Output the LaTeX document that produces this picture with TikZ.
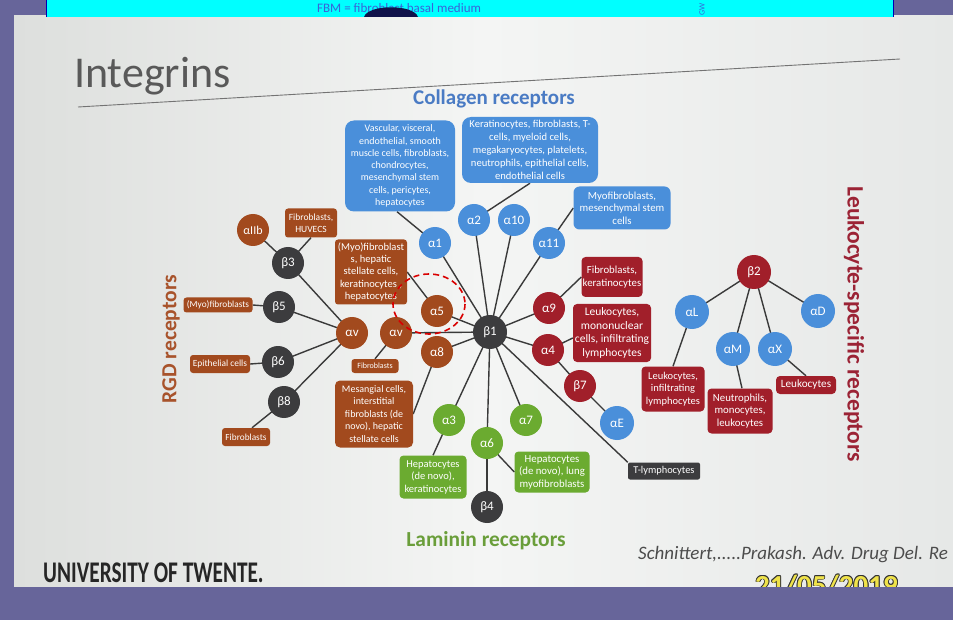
\documentclass[tikz,border=0pt]{standalone}
\usepackage{fontspec}
\setmainfont{Carlito}
\usetikzlibrary{calc}
\pgfdeclarelayer{bgslide}
\pgfdeclarelayer{edges}
\pgfsetlayers{bgslide,edges,main}
\definecolor{purp}{HTML}{67659A}
\definecolor{slideL}{HTML}{DDDFDD}
\definecolor{slideM}{HTML}{F4F5F4}
\definecolor{slideR}{HTML}{E6E8E7}
\definecolor{bandcyan}{HTML}{00FFFF}
\definecolor{cblue}{HTML}{4A8FDA}
\definecolor{cred}{HTML}{A11F2A}
\definecolor{cbrown}{HTML}{A24A1E}
\definecolor{cdark}{HTML}{3C3C3E}
\definecolor{cgreen}{HTML}{6BAB30}
\definecolor{edgec}{HTML}{3A3A3A}
\definecolor{colltxt}{HTML}{4A7BC4}
\definecolor{lamtxt}{HTML}{6A9E3A}
\definecolor{leuktxt}{HTML}{9B2335}
\definecolor{rgdtxt}{HTML}{A8532B}
\definecolor{fbmblue}{HTML}{3A63D8}
\definecolor{dateyel}{HTML}{EFE24A}
\definecolor{blobc}{HTML}{10124A}
\tikzset{
  circ/.style={circle, minimum size=32pt, inner sep=0pt, text=white, font=\fontsize{13}{13}\selectfont},
  bc/.style={circ, fill=cblue},
  rc/.style={circ, fill=cred},
  brc/.style={circ, fill=cbrown},
  dc/.style={circ, fill=cdark},
  gc/.style={circ, fill=cgreen},
  cellbox/.style={rounded corners=4pt, inner sep=0pt, text=white, align=center, font=\fontsize{10.5}{12.5}\selectfont},
  bb/.style={cellbox, fill=cblue, rounded corners=9pt},
  rb/.style={cellbox, fill=cred},
  brb/.style={cellbox, fill=cbrown, rounded corners=3pt},
  gb/.style={cellbox, fill=cgreen},
  db/.style={cellbox, fill=cdark, rounded corners=2pt},
  link/.style={draw=edgec, line width=1.4pt},
}
\begin{document}
\begin{tikzpicture}[x=1pt,y=-1pt]
\useasboundingbox (0,0) rectangle (953,620);
% ---------- background ----------
\begin{pgfonlayer}{bgslide}
\fill[purp] (0,0) rectangle (953,620);
\shade[left color=slideL, right color=slideR, middle color=slideM] (14,16) rectangle (953,587);
\fill[bandcyan] (46,0) rectangle (893,17);
\draw[blue!70!black, line width=0.8pt] (46,0) -- (46,17) (893,0) -- (893,17);
\node[text=fbmblue, font=\fontsize{13}{13}\selectfont, anchor=west, inner sep=0pt] (fbm) at (317,8) {FBM = fibroblast basal medium};
\fill[blobc] (364,17) .. controls (368,4) and (414,4) .. (418,17) -- cycle;
\node[text=fbmblue, font=\fontsize{8}{8}\selectfont, rotate=90, inner sep=0pt] (gw) at (702,9) {GW};
% title
\node[anchor=base west, text=black!65, font=\fontsize{44}{44}\selectfont, inner sep=0pt] (title) at (74,88) {Integrins};
\draw[black!55, line width=0.9pt] (78,107) -- (900,59);
\end{pgfonlayer}
% ---------- headings ----------
\node[text=colltxt, font=\bfseries\fontsize{21}{21}\selectfont] (coll) at (494,99) {Collagen receptors};
\node[text=lamtxt, font=\bfseries\fontsize{21.4}{21.4}\selectfont] (lam) at (486,541) {Laminin receptors};
\node[text=rgdtxt, rotate=90, font=\bfseries\fontsize{21.5}{21.5}\selectfont] (rgd) at (171,339) {RGD receptors};
\node[text=leuktxt, rotate=-90, font=\bfseries\fontsize{23.5}{23.5}\selectfont] (leuk) at (854,324) {Leukocyte-specific receptors};
% ---------- integrin circles ----------
\node[dc, minimum size=34pt] (b1) at (490,332) {β1};
\node[bc] (a1) at (435,243) {α1};
\node[bc] (a2) at (474,220) {α2};
\node[bc] (a10) at (514,220) {α10};
\node[bc] (a11) at (549,243) {α11};
\node[rc] (a9) at (549,308) {α9};
\node[rc] (a4) at (548,350) {α4};
\node[rc] (b7) at (580,386) {β7};
\node[bc, minimum size=34pt] (aE) at (617,423) {αE};
\node[brc] (a5) at (437,311) {α5};
\node[brc] (av2) at (396,333) {αv};
\node[brc] (av1) at (352,333) {αv};
\node[brc] (a8) at (437,352) {α8};
\node[gc] (a3) at (449,420) {α3};
\node[gc] (a6) at (487,443) {α6};
\node[gc] (a7) at (526,420) {α7};
\node[dc] (b4) at (487,507) {β4};
\node[dc] (b3) at (288,263) {β3};
\node[dc] (b5) at (279,307) {β5};
\node[dc] (b6) at (278,362) {β6};
\node[dc] (b8) at (284,402) {β8};
\node[brc, font=\fontsize{12}{12}\selectfont] (a2b) at (253,230) {αIIb};
\node[rc, minimum size=34pt] (b2) at (754,272) {β2};
\node[bc, minimum size=34pt] (aL) at (692,312) {αL};
\node[bc, minimum size=34pt] (aM) at (733,349) {αM};
\node[bc, minimum size=34pt] (aX) at (775,349) {αX};
\node[bc, minimum size=34pt] (aD) at (818,311) {αD};
% ---------- cell boxes ----------
\node[bb, minimum width=110pt, minimum height=91pt, font=\fontsize{10}{12.3}\selectfont] (cb1) at (400,166)
  {Vascular, visceral,\\endothelial, smooth\\muscle cells, fibroblasts,\\chondrocytes,\\mesenchymal stem\\cells, pericytes,\\hepatocytes};
\node[bb, minimum width=136pt, minimum height=66pt, font=\fontsize{10.6}{13}\selectfont] (cb2) at (530,150)
  {Keratinocytes, fibroblasts, T-\\cells, myeloid cells,\\megakaryocytes, platelets,\\neutrophils, epithelial cells,\\endothelial cells};
\node[bb, minimum width=97pt, minimum height=43pt, rounded corners=6pt, font=\fontsize{10.8}{12.5}\selectfont] (cb3) at (622,208)
  {Myofibroblasts,\\mesenchymal stem\\cells};
\node[brb, minimum width=52pt, minimum height=29pt, font=\fontsize{9.5}{11.5}\selectfont] (fbh) at (311,223) {Fibroblasts,\\HUVECS};
\node[brb, minimum width=72pt, minimum height=65pt, font=\fontsize{10.5}{12.4}\selectfont] (myo1) at (371,272)
  {(Myo)fibroblast\\s, hepatic\\stellate cells,\\keratinocytes ,\\hepatocytes};
\node[brb, minimum width=69pt, minimum height=15pt, font=\fontsize{9.3}{9.3}\selectfont] (myo2) at (218,305) {(Myo)fibroblasts};
\node[brb, minimum width=60pt, minimum height=18pt, font=\fontsize{9.4}{9.4}\selectfont] (epi) at (220,364) {Epithelial cells};
\node[brb, minimum width=48pt, minimum height=18pt, font=\fontsize{9.3}{9.3}\selectfont] (fb2) at (246,437) {Fibroblasts};
\node[brb, minimum width=47pt, minimum height=14pt, font=\fontsize{8}{8}\selectfont] (fb3) at (375,366) {Fibroblasts};
\node[brb, minimum width=78pt, minimum height=67pt, rounded corners=5pt, font=\fontsize{10}{12.5}\selectfont] (mes) at (374,414)
  {Mesangial cells,\\interstitial\\fibroblasts (de\\novo), hepatic\\stellate cells};
\node[gb, minimum width=67pt, minimum height=43pt] (g1) at (433,477) {Hepatocytes\\(de novo),\\keratinocytes};
\node[gb, minimum width=75pt, minimum height=41pt, font=\fontsize{10.8}{12.5}\selectfont] (g2) at (552,472) {Hepatocytes\\(de novo), lung\\myofibroblasts};
\node[rb, minimum width=61pt, minimum height=40pt, font=\fontsize{10.8}{12.5}\selectfont] (fk) at (612,277) {Fibroblasts,\\keratinocytes};
\node[rb, minimum width=78pt, minimum height=58pt, font=\fontsize{11.5}{13.5}\selectfont] (lm) at (612,333)
  {Leukocytes,\\mononuclear\\cells, infiltrating\\lymphocytes};
\node[rb, minimum width=63pt, minimum height=45pt] (li) at (673,389) {Leukocytes,\\infiltrating\\lymphocytes};
\node[rb, minimum width=65pt, minimum height=45pt, font=\fontsize{10.8}{12.8}\selectfont] (nm) at (740,411) {Neutrophils,\\monocytes,\\leukocytes};
\node[rb, minimum width=60pt, minimum height=18pt, font=\fontsize{11.2}{11.2}\selectfont] (lk) at (806,385) {Leukocytes};
\node[db, minimum width=72pt, minimum height=17pt, font=\fontsize{10.4}{10.4}\selectfont] (tl) at (664,471) {T-lymphocytes};
% ---------- connectors ----------
\begin{pgfonlayer}{edges}
\foreach \n in {a1,a2,a10,a11,a9,a4,a5,av2,a8,a3,a6,a7}
  \draw[link] (b1.center) -- (\n.center);
\draw[link] (b1.center) -- (tl.north west);
\draw[link] (a1.center) -- ([xshift=-3pt]cb1.south);
\draw[link] (a2.center) -- (cb2.south);
\draw[link] (a11.center) -- (cb3.west);
\draw[link] (a9.center) -- (fk.west);
\draw[link] (a4.center) -- ([yshift=-5pt]lm.west);
\draw[link] (a4.center) -- (b7.center) -- (aE.center);
\draw[link] (a5.center) -- (myo1.east);
\draw[link] (av2.center) -- (fb3.north);
\draw[link] (a8.center) -- (mes.east);
\draw[link] (a3.center) -- (g1.north);
\draw[link] (a6.center) -- (g2.west);
\draw[link] (a6.center) -- (b4.center);
\foreach \n in {b3,b5,b6,b8}
  \draw[link] (av1.center) -- (\n.center);
\draw[link] (b3.center) -- (a2b.center);
\draw[link] (b3.center) -- (fbh.south);
\draw[link] (b5.center) -- (myo2.east);
\draw[link] (b6.center) -- (epi.east);
\draw[link] (b8.center) -- ([xshift=6pt]fb2.north);
\foreach \n in {aL,aM,aX,aD}
  \draw[link] (b2.center) -- (\n.center);
\draw[link] (aL.center) -- (li.north);
\draw[link] (aM.center) -- ([xshift=2pt]nm.north);
\draw[link] (aX.center) -- (lk.north);
\end{pgfonlayer}
% red dashed highlight
\draw[red!85!black, line width=1.6pt, dash pattern=on 6pt off 4pt] (429,304) ellipse [x radius=36, y radius=30];
% ---------- footer ----------
\node[anchor=base west, inner sep=0pt, text=black!85, font=\bfseries\fontsize{30}{30}\selectfont] (ut) at (43,582) {\scalebox{0.71}[1]{UNIVERSITY OF TWENTE.}};
\node[anchor=base west, inner sep=0pt, text=black!70, font=\itshape\fontsize{19}{19}\selectfont] (ref) at (638,559) {Schnittert,.....Prakash. Adv. Drug Del. Re};
\foreach \dx/\dy in {-0.9/0,0.9/0,0/-0.9,0/0.9,-0.7/-0.7,0.7/0.7,-0.7/0.7,0.7/-0.7}
  \node[anchor=base west, inner sep=0pt, text=black!80, font=\bfseries\fontsize{29}{29}\selectfont] at (755+\dx,595+\dy) {21/05/2019};
\node[anchor=base west, inner sep=0pt, text=dateyel, font=\bfseries\fontsize{29}{29}\selectfont] (date) at (755,595) {21/05/2019};
\fill[purp] (0,587) rectangle (953,620);
\end{tikzpicture}
\end{document}
